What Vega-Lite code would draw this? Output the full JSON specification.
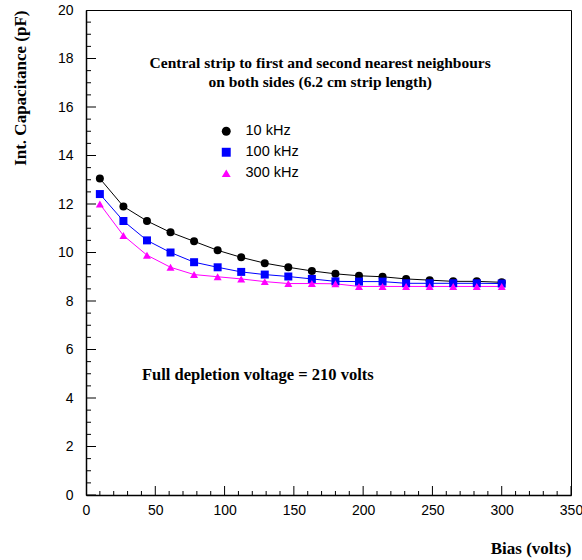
{
  "$schema": "https://vega.github.io/schema/vega-lite/v6.json",
  "width": 485,
  "height": 485,
  "autosize": {"type": "none"},
  "padding": {"left": 86, "top": 10, "right": 11, "bottom": 65},
  "background": "white",
  "config": {
    "view": {"stroke": "black", "strokeWidth": 1},
    "axis": {
      "grid": false,
      "domainColor": "black",
      "domainWidth": 1.5,
      "tickColor": "black",
      "tickWidth": 1,
      "labelFont": "Liberation Sans",
      "labelFontSize": 14,
      "labelColor": "black",
      "titleFont": "Liberation Serif",
      "titleFontSize": 17,
      "titleFontWeight": "bold",
      "titleColor": "black"
    }
  },
  "resolve": {"axis": {"x": "independent", "y": "independent"}},
  "layer": [
    {
      "data": {
        "values": [
          {"bias": 10, "cap": 13.05, "freq": "10 kHz"},
          {"bias": 27, "cap": 11.9, "freq": "10 kHz"},
          {"bias": 44, "cap": 11.3, "freq": "10 kHz"},
          {"bias": 61, "cap": 10.83, "freq": "10 kHz"},
          {"bias": 78, "cap": 10.46, "freq": "10 kHz"},
          {"bias": 95, "cap": 10.09, "freq": "10 kHz"},
          {"bias": 112, "cap": 9.8, "freq": "10 kHz"},
          {"bias": 129, "cap": 9.56, "freq": "10 kHz"},
          {"bias": 146, "cap": 9.39, "freq": "10 kHz"},
          {"bias": 163, "cap": 9.24, "freq": "10 kHz"},
          {"bias": 180, "cap": 9.12, "freq": "10 kHz"},
          {"bias": 197, "cap": 9.04, "freq": "10 kHz"},
          {"bias": 214, "cap": 9.0, "freq": "10 kHz"},
          {"bias": 231, "cap": 8.91, "freq": "10 kHz"},
          {"bias": 248, "cap": 8.86, "freq": "10 kHz"},
          {"bias": 265, "cap": 8.81, "freq": "10 kHz"},
          {"bias": 282, "cap": 8.81, "freq": "10 kHz"},
          {"bias": 300, "cap": 8.77, "freq": "10 kHz"},
          {"bias": 10, "cap": 12.41, "freq": "100 kHz"},
          {"bias": 27, "cap": 11.3, "freq": "100 kHz"},
          {"bias": 44, "cap": 10.5, "freq": "100 kHz"},
          {"bias": 61, "cap": 10.0, "freq": "100 kHz"},
          {"bias": 78, "cap": 9.6, "freq": "100 kHz"},
          {"bias": 95, "cap": 9.39, "freq": "100 kHz"},
          {"bias": 112, "cap": 9.2, "freq": "100 kHz"},
          {"bias": 129, "cap": 9.09, "freq": "100 kHz"},
          {"bias": 146, "cap": 9.01, "freq": "100 kHz"},
          {"bias": 163, "cap": 8.91, "freq": "100 kHz"},
          {"bias": 180, "cap": 8.81, "freq": "100 kHz"},
          {"bias": 197, "cap": 8.8, "freq": "100 kHz"},
          {"bias": 214, "cap": 8.8, "freq": "100 kHz"},
          {"bias": 231, "cap": 8.73, "freq": "100 kHz"},
          {"bias": 248, "cap": 8.73, "freq": "100 kHz"},
          {"bias": 265, "cap": 8.73, "freq": "100 kHz"},
          {"bias": 282, "cap": 8.73, "freq": "100 kHz"},
          {"bias": 300, "cap": 8.72, "freq": "100 kHz"},
          {"bias": 10, "cap": 12.0, "freq": "300 kHz"},
          {"bias": 27, "cap": 10.7, "freq": "300 kHz"},
          {"bias": 44, "cap": 9.89, "freq": "300 kHz"},
          {"bias": 61, "cap": 9.39, "freq": "300 kHz"},
          {"bias": 78, "cap": 9.09, "freq": "300 kHz"},
          {"bias": 95, "cap": 9.0, "freq": "300 kHz"},
          {"bias": 112, "cap": 8.91, "freq": "300 kHz"},
          {"bias": 129, "cap": 8.8, "freq": "300 kHz"},
          {"bias": 146, "cap": 8.72, "freq": "300 kHz"},
          {"bias": 163, "cap": 8.72, "freq": "300 kHz"},
          {"bias": 180, "cap": 8.71, "freq": "300 kHz"},
          {"bias": 197, "cap": 8.6, "freq": "300 kHz"},
          {"bias": 214, "cap": 8.6, "freq": "300 kHz"},
          {"bias": 231, "cap": 8.6, "freq": "300 kHz"},
          {"bias": 248, "cap": 8.6, "freq": "300 kHz"},
          {"bias": 265, "cap": 8.6, "freq": "300 kHz"},
          {"bias": 282, "cap": 8.6, "freq": "300 kHz"},
          {"bias": 300, "cap": 8.6, "freq": "300 kHz"}
        ]
      },
      "encoding": {
        "x": {
          "field": "bias",
          "type": "quantitative",
          "scale": {"domain": [0, 350], "nice": false, "zero": false},
          "axis": {
            "orient": "bottom",
            "ticks": false,
            "title": "Bias (volts)",
            "values": [0, 50, 100, 150, 200, 250, 300, 350],
            "format": "d",
            "labelPadding": 8,
            "labelFlush": false,
            "labelOverlap": false,
            "titleAnchor": "end",
            "titleAlign": "right",
            "titleBaseline": "top",
            "titleX": 485,
            "titleY": 45
          }
        },
        "y": {
          "field": "cap",
          "type": "quantitative",
          "scale": {"domain": [0, 20], "nice": false, "zero": false},
          "axis": {
            "orient": "left",
            "ticks": false,
            "title": "Int. Capacitance (pF)",
            "values": [0, 2, 4, 6, 8, 10, 12, 14, 16, 18, 20],
            "format": "d",
            "labelPadding": 13,
            "labelFlush": false,
            "labelOverlap": false,
            "titleAnchor": "end",
            "titleAngle": -90,
            "titleAlign": "right",
            "titleBaseline": "top",
            "titleX": -74,
            "titleY": 0
          }
        },
        "color": {
          "field": "freq",
          "type": "nominal",
          "scale": {"domain": ["10 kHz", "100 kHz", "300 kHz"], "range": ["#000000", "#0000ff", "#ff00ff"]},
          "legend": {
            "title": null,
            "orient": "none",
            "legendX": 133,
            "legendY": 114,
            "padding": 0,
            "symbolSize": 80,
            "symbolStrokeWidth": 0,
            "labelFont": "Liberation Sans",
            "labelFontSize": 14.5,
            "labelColor": "black",
            "labelOffset": 12,
            "rowPadding": 6
          }
        }
      },
      "layer": [
        {"mark": {"type": "line", "strokeWidth": 1}},
        {
          "mark": {"type": "point", "filled": true, "opacity": 1, "size": 64},
          "encoding": {
            "shape": {
              "field": "freq",
              "type": "nominal",
              "scale": {"domain": ["10 kHz", "100 kHz", "300 kHz"], "range": ["circle", "square", "triangle-up"]},
              "legend": {
                "title": null,
                "orient": "none",
                "legendX": 133,
                "legendY": 114,
                "padding": 0,
                "symbolSize": 80,
                "symbolStrokeWidth": 0,
                "labelFont": "Liberation Sans",
                "labelFontSize": 14.5,
                "labelColor": "black",
                "labelOffset": 12,
                "rowPadding": 6
              }
            }
          }
        }
      ]
    },
    {
      "data": {
        "values": [
          {"bias": 0}, {"bias": 10}, {"bias": 20}, {"bias": 30}, {"bias": 40}, {"bias": 50},
          {"bias": 60}, {"bias": 70}, {"bias": 80}, {"bias": 90}, {"bias": 100},
          {"bias": 110}, {"bias": 120}, {"bias": 130}, {"bias": 140}, {"bias": 150},
          {"bias": 160}, {"bias": 170}, {"bias": 180}, {"bias": 190}, {"bias": 200},
          {"bias": 210}, {"bias": 220}, {"bias": 230}, {"bias": 240}, {"bias": 250},
          {"bias": 260}, {"bias": 270}, {"bias": 280}, {"bias": 290}, {"bias": 300},
          {"bias": 310}, {"bias": 320}, {"bias": 330}, {"bias": 340}, {"bias": 350}
        ]
      },
      "mark": {"type": "tick", "orient": "vertical", "clip": true, "thickness": 1, "color": "black", "opacity": 1},
      "encoding": {
        "x": {"field": "bias", "type": "quantitative", "axis": null},
        "y": {"datum": 0, "type": "quantitative", "axis": null},
        "size": {"condition": {"test": "datum.bias % 50 === 0", "value": 18}, "value": 8}
      }
    },
    {
      "data": {
        "values": [
          {"cap": 0}, {"cap": 0.5}, {"cap": 1}, {"cap": 1.5}, {"cap": 2}, {"cap": 2.5},
          {"cap": 3}, {"cap": 3.5}, {"cap": 4}, {"cap": 4.5}, {"cap": 5}, {"cap": 5.5},
          {"cap": 6}, {"cap": 6.5}, {"cap": 7}, {"cap": 7.5}, {"cap": 8}, {"cap": 8.5},
          {"cap": 9}, {"cap": 9.5}, {"cap": 10}, {"cap": 10.5}, {"cap": 11}, {"cap": 11.5},
          {"cap": 12}, {"cap": 12.5}, {"cap": 13}, {"cap": 13.5}, {"cap": 14}, {"cap": 14.5},
          {"cap": 15}, {"cap": 15.5}, {"cap": 16}, {"cap": 16.5}, {"cap": 17}, {"cap": 17.5},
          {"cap": 18}, {"cap": 18.5}, {"cap": 19}, {"cap": 19.5}, {"cap": 20}
        ]
      },
      "mark": {"type": "tick", "orient": "horizontal", "clip": true, "thickness": 1, "color": "black", "opacity": 1},
      "encoding": {
        "y": {"field": "cap", "type": "quantitative", "axis": null},
        "x": {"datum": 0, "type": "quantitative", "axis": null},
        "size": {"condition": {"test": "datum.cap % 2 === 0", "value": 20}, "value": 10}
      }
    },
    {
      "data": {"values": [{}]},
      "mark": {"type": "text", "font": "Liberation Serif", "fontSize": 15.5, "fontWeight": "bold", "align": "center", "baseline": "alphabetic", "lineHeight": 19, "color": "black"},
      "encoding": {
        "x": {"datum": 169, "type": "quantitative", "axis": null},
        "y": {"datum": 17.6, "type": "quantitative", "axis": null},
        "text": {"value": ["Central strip to first and second nearest neighbours", "on both sides (6.2 cm strip length)"]}
      }
    },
    {
      "data": {"values": [{}]},
      "mark": {"type": "text", "font": "Liberation Serif", "fontSize": 16.5, "fontWeight": "bold", "align": "left", "baseline": "middle", "color": "black"},
      "encoding": {
        "x": {"datum": 40.4, "type": "quantitative", "axis": null},
        "y": {"datum": 4.93, "type": "quantitative", "axis": null},
        "text": {"value": "Full depletion voltage = 210 volts"}
      }
    }
  ]
}
